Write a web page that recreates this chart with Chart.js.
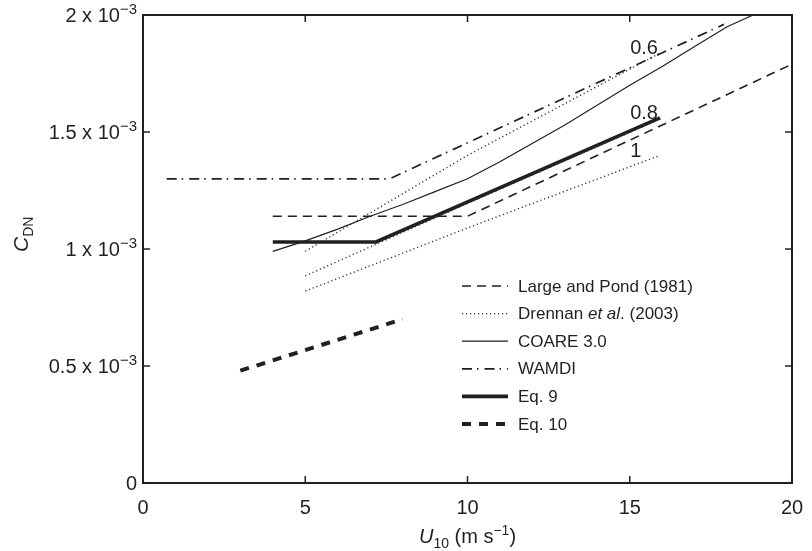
<!DOCTYPE html>
<html>
<head>
<meta charset="utf-8">
<script src="https://cdn.jsdelivr.net/npm/chart.js@4/dist/chart.umd.min.js"></script>
<style>
    body { margin: 0; background: #fff; }
</style>
</head>
<body>
<canvas id="cdnChart" width="812" height="551"></canvas>
<script>
// U10 (m/s) and drag coefficient values
const largePondU = [4, 10, 20];
const largePondCd = [1.14e-3, 1.14e-3, 1.79e-3];

const drennan06U = [5, 10, 15.9];
const drennan06Cd = [0.99e-3, 1.40e-3, 1.835e-3];
const drennan08U = [5, 10, 15.95];
const drennan08Cd = [0.885e-3, 1.195e-3, 1.556e-3];
const drennan1U = [5, 10, 15.93];
const drennan1Cd = [0.82e-3, 1.09e-3, 1.40e-3];

const coareU = [4, 5, 6, 7, 8, 9, 10, 11, 13, 15, 16, 17, 18, 18.8];
const coareCd = [0.99e-3, 1.035e-3, 1.085e-3, 1.14e-3, 1.19e-3, 1.245e-3, 1.30e-3, 1.373e-3, 1.53e-3, 1.70e-3, 1.78e-3, 1.865e-3, 1.95e-3, 2.0e-3];

const wamdiU = [0.73, 7.6, 17.9];
const wamdiCd = [1.30e-3, 1.30e-3, 1.96e-3];

const eq9U = [4, 7.18, 15.93];
const eq9Cd = [1.03e-3, 1.03e-3, 1.56e-3];

const eq10U = [3, 8];
const eq10Cd = [0.48e-3, 0.70e-3];

// axes
const xTickValues = [0, 5, 10, 15, 20];
const yTickValues = [0, 0.5e-3, 1e-3, 1.5e-3, 2e-3];
const yTickLabels = ['0', '0.5 x 10', '1 x 10', '1.5 x 10', '2 x 10'];
const yTickExponent = '\u22123';

// wave age labels on the Drennan lines
const waveAgeLabels = ['0.6', '0.8', '1'];
const waveAgeU = [15.44, 15.44, 15.19];
const waveAgeCd = [1.859e-3, 1.581e-3, 1.415e-3];

class CdnChart {

    static ink = '#231f20';
    static family = '"Liberation Sans", Arial, sans-serif';

    static pointers = {
        canvas: 'cdnChart',
    }

    static toPoints = (xs, ys) => xs.map((x, i) => ({ x: x, y: ys[i] }));

    static line = (label, xs, ys, width, dash, color, inLegend = true) => ({
        label: label,
        data: this.toPoints(xs, ys),
        borderColor: color || this.ink,
        borderWidth: width,
        borderDash: dash,
        borderCapStyle: 'butt',
        pointRadius: 0,
        tension: 0,
        fill: false,
        inLegend: inLegend,
    });

    static datasets = () => [
        this.line('Large and Pond (1981)', largePondU, largePondCd, 1.6, [9, 6]),
        this.line('Drennan et al. (2003)', drennan06U, drennan06Cd, 1.4, [1.2, 2.8], '#333'),
        this.line('drennan08', drennan08U, drennan08Cd, 1.4, [1.2, 2.8], '#333', false),
        this.line('drennan1', drennan1U, drennan1Cd, 1.4, [1.2, 2.8], '#333', false),
        this.line('COARE 3.0', coareU, coareCd, 1.2, []),
        this.line('WAMDI', wamdiU, wamdiCd, 1.7, [10, 5, 1.5, 6]),
        this.line('Eq. 9', eq9U, eq9Cd, 3.6, []),
        this.line('Eq. 10', eq10U, eq10Cd, 4, [9, 8]),
    ];

    // draw a run of text pieces, each with its own font and baseline shift
    static drawRuns = (ctx, runs, x, y) => {
        let cx = x;
        runs.forEach(r => {
            ctx.font = r.font;
            ctx.fillText(r.text, cx, y + (r.dy || 0));
            cx += ctx.measureText(r.text).width;
        });
    }

    static runsWidth = (ctx, runs) => {
        let w = 0;
        runs.forEach(r => { ctx.font = r.font; w += ctx.measureText(r.text).width; });
        return w;
    }

    // frame, inward ticks, y labels, axis titles, legend and wave age labels
    static decorations = {
        id: 'decorations',
        afterDraw: (chart) => {
            const ctx = chart.ctx;
            const a = chart.chartArea;
            const xs = chart.scales.x;
            const ys = chart.scales.y;
            const f = this.family;
            ctx.save();
            ctx.strokeStyle = this.ink;
            ctx.fillStyle = this.ink;
            ctx.setLineDash([]);

            // box
            ctx.lineWidth = 2;
            ctx.strokeRect(a.left, a.top, a.right - a.left, a.bottom - a.top);

            // inward ticks
            ctx.lineWidth = 1.5;
            xTickValues.forEach(v => {
                const px = xs.getPixelForValue(v);
                ctx.beginPath();
                ctx.moveTo(px, a.bottom); ctx.lineTo(px, a.bottom - 7);
                ctx.moveTo(px, a.top); ctx.lineTo(px, a.top + 7);
                ctx.stroke();
            });
            yTickValues.forEach(v => {
                const py = ys.getPixelForValue(v);
                ctx.beginPath();
                ctx.moveTo(a.left, py); ctx.lineTo(a.left + 7, py);
                ctx.moveTo(a.right, py); ctx.lineTo(a.right - 7, py);
                ctx.stroke();
            });

            // y tick labels with superscript exponent
            ctx.textBaseline = 'alphabetic';
            ctx.textAlign = 'left';
            yTickValues.forEach((v, i) => {
                const py = ys.getPixelForValue(v) + 7;
                const runs = [{ text: yTickLabels[i], font: `20px ${f}` }];
                if (v !== 0) runs.push({ text: yTickExponent, font: `15px ${f}`, dy: -8 });
                const w = this.runsWidth(ctx, runs);
                this.drawRuns(ctx, runs, a.left - 6 - w, py);
            });

            // x axis title
            const xRuns = [
                { text: 'U', font: `italic 20px ${f}` },
                { text: '10', font: `14px ${f}`, dy: 5 },
                { text: ' (m s', font: `20px ${f}` },
                { text: '\u22121', font: `14px ${f}`, dy: -8 },
                { text: ')', font: `20px ${f}` },
            ];
            const xw = this.runsWidth(ctx, xRuns);
            this.drawRuns(ctx, xRuns, (a.left + a.right) / 2 - xw / 2, 543);

            // y axis title, rotated
            ctx.save();
            ctx.translate(28, 252);
            ctx.rotate(-Math.PI / 2);
            this.drawRuns(ctx, [
                { text: 'C', font: `italic 21px ${f}` },
                { text: 'DN', font: `14px ${f}`, dy: 5 },
            ], 0, 0);
            ctx.restore();

            // wave age labels
            ctx.textAlign = 'center';
            ctx.textBaseline = 'middle';
            ctx.font = `20px ${f}`;
            waveAgeLabels.forEach((t, i) => {
                ctx.fillText(t, xs.getPixelForValue(waveAgeU[i]), ys.getPixelForValue(waveAgeCd[i]));
            });

            // legend
            ctx.textAlign = 'left';
            let row = 0;
            chart.data.datasets.forEach(ds => {
                if (!ds.inLegend) return;
                const ly = 286 + row * 27.6;
                ctx.strokeStyle = ds.borderColor;
                ctx.lineWidth = ds.borderWidth;
                ctx.setLineDash(ds.borderDash);
                ctx.beginPath();
                ctx.moveTo(462, ly); ctx.lineTo(508, ly);
                ctx.stroke();
                ctx.setLineDash([]);
                ctx.fillStyle = this.ink;
                ctx.textBaseline = 'middle';
                if (ds.label.startsWith('Drennan')) {
                    this.drawRuns(ctx, [
                        { text: 'Drennan ', font: `17px ${f}` },
                        { text: 'et al', font: `italic 17px ${f}` },
                        { text: '. (2003)', font: `17px ${f}` },
                    ], 518, ly + 1);
                } else {
                    ctx.font = `17px ${f}`;
                    ctx.fillText(ds.label, 518, ly + 1);
                }
                row += 1;
            });
            ctx.restore();
        }
    }

    static init = () => {
        const canvas = document.getElementById(this.pointers.canvas);
        new Chart(canvas, {
            type: 'line',
            data: { datasets: this.datasets() },
            options: {
                responsive: false,
                animation: false,
                devicePixelRatio: 1,
                layout: { padding: { left: 0, right: 20, top: 15, bottom: 0 } },
                plugins: {
                    legend: { display: false },
                    tooltip: { enabled: false },
                },
                scales: {
                    x: {
                        type: 'linear',
                        min: 0,
                        max: 20,
                        afterFit: (scale) => { scale.height = 68; },
                        grid: { display: false },
                        border: { display: false },
                        ticks: {
                            stepSize: 5,
                            maxRotation: 0,
                            padding: 5,
                            color: this.ink,
                            font: { family: this.family, size: 20 },
                        },
                    },
                    y: {
                        type: 'linear',
                        min: 0,
                        max: 2e-3,
                        afterFit: (scale) => { scale.width = 143; },
                        grid: { display: false },
                        border: { display: false },
                        ticks: { display: false, stepSize: 0.5e-3 },
                    },
                },
            },
            plugins: [this.decorations],
        });
    }
}

CdnChart.init();
</script>
</body>
</html>
